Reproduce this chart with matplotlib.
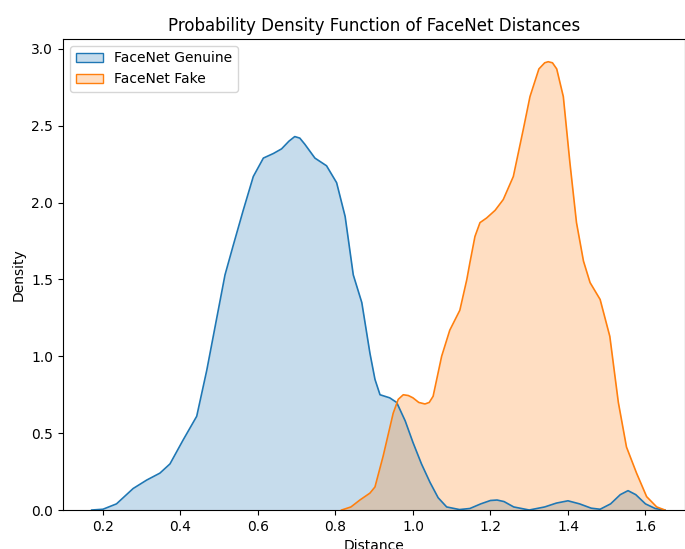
import matplotlib.pyplot as plt

# FaceNet genuine distances - density
genuine_x = [0.171, 0.20, 0.235, 0.278, 0.313, 0.347, 0.373, 0.407, 0.442, 0.468,
             0.493, 0.515, 0.536, 0.562, 0.588, 0.614, 0.64, 0.661, 0.68, 0.695,
             0.708, 0.721, 0.747, 0.777, 0.803, 0.825, 0.846, 0.868, 0.889, 0.902,
             0.915, 0.94, 0.958, 0.98, 1.0, 1.022, 1.044, 1.065, 1.087, 1.12,
             1.147, 1.175, 1.2, 1.217, 1.235, 1.26, 1.30, 1.34, 1.37, 1.40,
             1.43, 1.46, 1.483, 1.51, 1.535, 1.555, 1.575, 1.60, 1.625, 1.65]
genuine_y = [0.0, 0.005, 0.04, 0.14, 0.195, 0.24, 0.30, 0.456, 0.61, 0.91,
             1.24, 1.53, 1.72, 1.95, 2.17, 2.29, 2.32, 2.35, 2.40, 2.43,
             2.42, 2.38, 2.29, 2.24, 2.13, 1.91, 1.53, 1.35, 1.02, 0.85,
             0.75, 0.73, 0.70, 0.58, 0.44, 0.30, 0.18, 0.08, 0.02, 0.003,
             0.01, 0.04, 0.062, 0.065, 0.055, 0.02, 0.0, 0.02, 0.045, 0.06,
             0.04, 0.012, 0.005, 0.04, 0.10, 0.126, 0.10, 0.04, 0.01, 0.0]

# FaceNet fake distances
fake_x = [0.816, 0.84, 0.863, 0.889, 0.902, 0.923, 0.949, 0.962, 0.975, 0.988,
          1.0, 1.015, 1.031, 1.042, 1.052, 1.074, 1.095, 1.121, 1.139, 1.147,
          1.16, 1.173, 1.19, 1.212, 1.233, 1.259, 1.285, 1.302, 1.325, 1.34,
          1.349, 1.36, 1.371, 1.388, 1.405, 1.422, 1.44, 1.457, 1.483, 1.508,
          1.53, 1.551, 1.577, 1.603, 1.629, 1.65]
fake_y = [0.0, 0.02, 0.065, 0.11, 0.15, 0.35, 0.63, 0.72, 0.75, 0.745,
          0.73, 0.70, 0.69, 0.70, 0.74, 1.0, 1.17, 1.3, 1.5, 1.61,
          1.78, 1.87, 1.90, 1.95, 2.02, 2.17, 2.48, 2.69, 2.87, 2.91,
          2.917, 2.91, 2.87, 2.69, 2.26, 1.87, 1.62, 1.48, 1.37, 1.13,
          0.70, 0.41, 0.24, 0.087, 0.02, 0.0]

blue = '#1f77b4'
orange = '#ff7f0e'

fig = plt.figure(figsize=(6.85, 5.49), dpi=100)
ax = fig.add_axes([0.092, 0.071, 0.908, 0.858])

ax.fill_between(genuine_x, genuine_y, color=blue, alpha=0.25, linewidth=0)
ax.plot(genuine_x, genuine_y, color=blue, linewidth=1.2)
ax.fill_between(fake_x, fake_y, color=orange, alpha=0.25, linewidth=0)
ax.plot(fake_x, fake_y, color=orange, linewidth=1.2)

# legend handles like seaborn's filled kde
from matplotlib.patches import Patch
handles = [Patch(facecolor=(0.122, 0.467, 0.706, 0.25), edgecolor=blue, label='FaceNet Genuine'),
           Patch(facecolor=(1.0, 0.498, 0.055, 0.25), edgecolor=orange, label='FaceNet Fake')]
ax.legend(handles=handles, loc='upper left')

ax.set_xlim(0.097, 1.702)
ax.set_ylim(0, 3.065)
ax.set_xticks([0.2, 0.4, 0.6, 0.8, 1.0, 1.2, 1.4, 1.6])
ax.set_title('Probability Density Function of FaceNet Distances')
ax.set_xlabel('Distance')
ax.set_ylabel('Density')

fig.savefig('out.png')
